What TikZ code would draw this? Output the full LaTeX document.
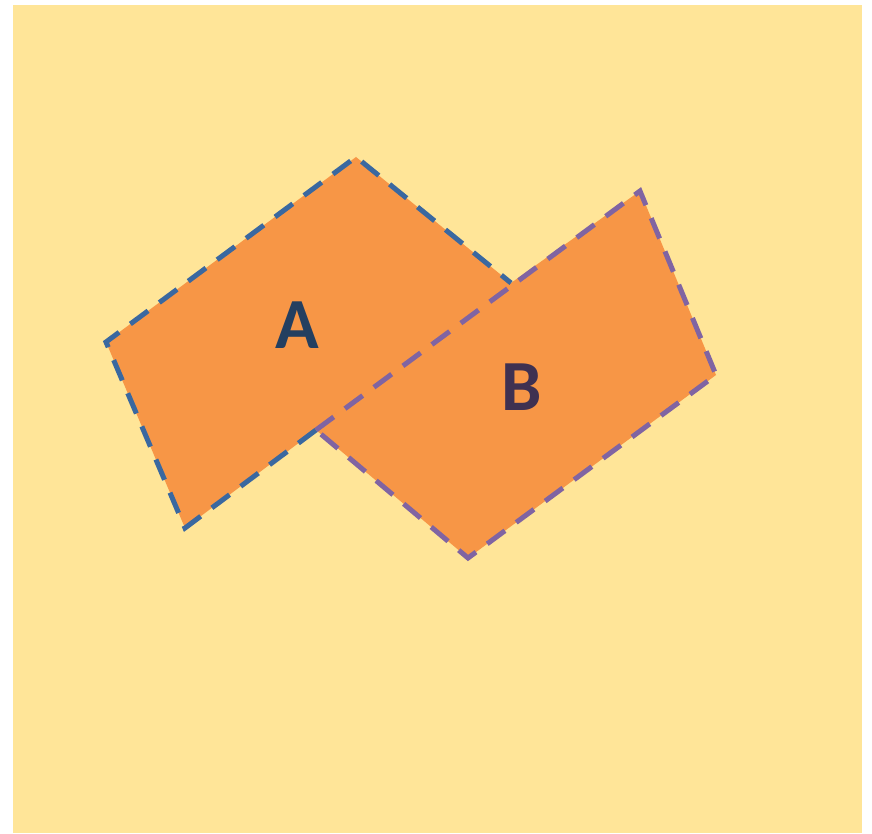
\documentclass[tikz,border=0pt]{standalone}
\usepackage{fontspec}
\setmainfont{Carlito}
\definecolor{bgyellow}{HTML}{FFE598}
\definecolor{shapeorange}{HTML}{F79646}
\definecolor{edgeblue}{HTML}{3A68A0}
\definecolor{edgepurple}{HTML}{8064A2}
\definecolor{textblue}{HTML}{243F60}
\definecolor{textpurple}{HTML}{3F3151}
\begin{document}
\begin{tikzpicture}[x=1pt,y=1pt,
  edgeline/.style={line width=5pt,dash pattern=on 22pt off 14pt,line join=miter},
  letter/.style={font=\fontsize{72}{72}\selectfont\bfseries,inner sep=0pt}]
\useasboundingbox (0,0) rectangle (872,833);
\fill[white] (0,0) rectangle (872,833);
\fill[bgyellow] (13,0) rectangle (862,828);
% shape A vertices
\coordinate (aL) at (106,491);
\coordinate (aT) at (356,676);
\coordinate (aX) at (511,550);
\coordinate (aB) at (185,305);
\coordinate (aI) at (316,403);
% shape B vertices
\coordinate (bL) at (316,403);
\coordinate (bT) at (640,642);
\coordinate (bR) at (716,458);
\coordinate (bB) at (468,275);
% union of both shapes, filled as one area
\fill[shapeorange] (aB) -- (aL) -- (aT) -- (aX) -- (bT) -- (bR) -- (bB) -- (bL) -- cycle;
\draw[edgeline,edgeblue] (aI) -- (aB) -- (aL) -- (aT) -- (aX);
\draw[edgeline,edgepurple] (bL) -- (bT) -- (bR) -- (bB) -- cycle;
\node[letter,text=textblue] (la) at (297,508) {A};
\node[letter,text=textpurple] (lb) at (522,446) {B};
\end{tikzpicture}
\end{document}
